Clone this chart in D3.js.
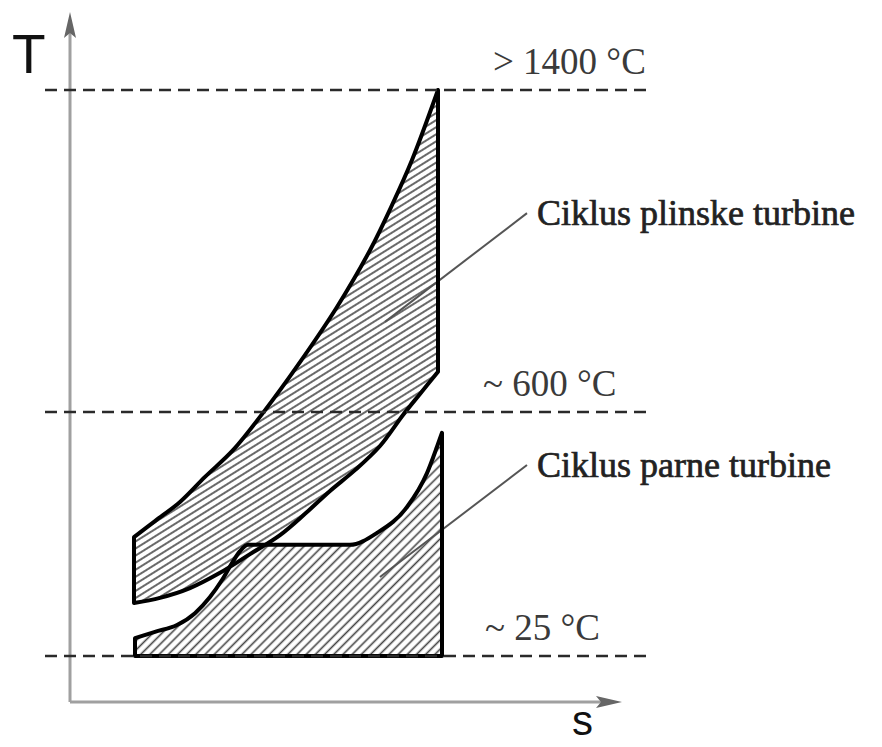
<!DOCTYPE html>
<meta charset="utf-8">
<style>
  body { margin: 0; background: #fff; }
  .outline { fill: none; stroke: #000; stroke-width: 4px; stroke-linejoin: round; }
  .level { stroke: #2a2a2a; stroke-width: 2.6px; stroke-dasharray: 12,7; }
  .axis-line { stroke: #a0a0a0; stroke-width: 3px; }
  .leader { stroke: #555; stroke-width: 2px; }
  .temp { font: 37px "Liberation Serif", "Times New Roman", serif; fill: #3a3a3a; }
  .cycle { font: 36px "Liberation Serif", "Times New Roman", serif; fill: #222; stroke: #222; stroke-width: 0.7px; }
  .axlabel { font: 55px "Liberation Sans", Arial, sans-serif; fill: #111; }
</style>
<svg width="882" height="747"></svg>
<script src="https://cdn.jsdelivr.net/npm/d3@7"></script>
<script>
// temperature levels (°C)
var levels = [1400, 600, 25];
var levelLabels = ["> 1400 °C", "~ 600 °C", "~ 25 °C"];

// gas turbine cycle (s in arbitrary entropy units, T in °C)
var gasUpperS = [1.28, 1.70, 2.20, 2.70, 3.26, 3.86, 4.60, 5.34, 6.00, 6.44, 6.84, 7.36];
var gasUpperT = [305, 343, 388, 447, 510, 598, 724, 861, 1002, 1114, 1226, 1400];
var gasLowerS = [7.36, 7.00, 6.66, 6.20, 5.70, 5.20, 4.70, 4.20, 3.60, 3.00, 2.40, 1.80, 1.28];
var gasLowerT = [700, 645, 593, 520, 463, 414, 360, 310, 265, 221, 185, 162, 150];

// steam turbine cycle, upper boundary; lower boundary sits on the 25 °C level
var steamS = [1.30, 1.70, 2.14, 2.50, 2.80, 3.04, 3.24, 3.40, 3.56, 4.60, 5.60, 6.14, 6.74, 7.14, 7.34, 7.44];
var steamT = [67, 82, 98, 126, 164, 204, 244, 272, 287, 287, 287, 315, 376, 456, 518, 551];

// leader lines for the two cycle labels [s0, T0, s1, T1]
var cycleNames = ["Ciklus plinske turbine", "Ciklus parne turbine"];
var leaders = [[6.3, 824, 9.14, 1094], [6.2, 211, 9.14, 475]];

var svg = d3.select("svg");

var x = d3.scaleLinear().domain([0, 11]).range([70, 620]);
var y = d3.scaleLinear().domain([25, 600, 1400]).range([656, 412, 90]);

var defs = svg.append("defs");
function hatch(id, angle, gap) {
  var p = defs.append("pattern")
      .attr("id", id)
      .attr("patternUnits", "userSpaceOnUse")
      .attr("width", 12).attr("height", gap)
      .attr("patternTransform", "rotate(" + (-angle) + ")");
  p.append("rect").attr("width", 12).attr("height", gap).attr("fill", "#fff");
  p.append("line")
      .attr("x1", 0).attr("x2", 12)
      .attr("y1", gap / 2).attr("y2", gap / 2)
      .attr("stroke", "#444").attr("stroke-width", 1.6);
}
hatch("hatchGas", 32, 6);
hatch("hatchSteam", 45, 6.5);

// axes
svg.append("line").attr("class", "axis-line")
    .attr("x1", x(0)).attr("x2", x(0)).attr("y1", 702).attr("y2", 30);
svg.append("line").attr("class", "axis-line")
    .attr("x1", x(0)).attr("x2", 605).attr("y1", 702).attr("y2", 702);
svg.append("path").attr("fill", "#666")
    .attr("d", "M" + x(0) + ",12 L" + (x(0) - 6) + ",38 L" + x(0) + ",33 L" + (x(0) + 6) + ",38 Z");
svg.append("path").attr("fill", "#666")
    .attr("d", "M622,702 L596,696 L601,702 L596,708 Z");

svg.append("text").attr("class", "axlabel").attr("x", 12).attr("y", 73).text("T");
svg.append("text").attr("class", "axlabel").attr("x", 572).attr("y", 735)
    .style("font-size", "42px").text("s");

var smooth = d3.line()
    .x(function(d) { return x(d[0]); })
    .y(function(d) { return y(d[1]); })
    .curve(d3.curveCatmullRom.alpha(0.5));
var flat = d3.line()
    .x(function(d) { return x(d[0]); })
    .y(function(d) { return y(d[1]); })
    .curve(d3.curveMonotoneX);

var gasUpper = d3.zip(gasUpperS, gasUpperT);
var gasLower = d3.zip(gasLowerS, gasLowerT);
var steamTop = d3.zip(steamS, steamT);

var steamPath = "M" + x(steamS[0]) + "," + y(levels[2]) +
    flat(steamTop).replace(/^M/, "L") +
    "L" + x(steamS[steamS.length - 1]) + "," + y(levels[2]) + "Z";
var gasPath = smooth(gasUpper) + smooth(gasLower).replace(/^M/, "L") + "Z";

svg.append("path").attr("d", steamPath).attr("fill", "url(#hatchSteam)");
svg.append("path").attr("d", gasPath).attr("fill", "url(#hatchGas)");

// leader lines
svg.selectAll(".leader").data(leaders).enter().append("line")
    .attr("class", "leader")
    .attr("x1", function(d) { return x(d[0]); })
    .attr("y1", function(d) { return y(d[1]); })
    .attr("x2", function(d) { return x(d[2]); })
    .attr("y2", function(d) { return y(d[3]); });

svg.append("path").attr("class", "outline").attr("d", steamPath);
svg.append("path").attr("class", "outline").attr("d", gasPath);

// dashed temperature levels
svg.selectAll(".level").data(levels).enter().append("line")
    .attr("class", "level")
    .attr("x1", 45).attr("x2", 650)
    .attr("y1", function(d) { return y(d); })
    .attr("y2", function(d) { return y(d); });

var labelDx = [493, 483, 485];
svg.selectAll(".temp").data(levels).enter().append("text")
    .attr("class", "temp")
    .attr("x", function(d, i) { return labelDx[i]; })
    .attr("y", function(d) { return y(d) - 16; })
    .text(function(d, i) { return levelLabels[i]; });

svg.selectAll(".cycle").data(leaders).enter().append("text")
    .attr("class", "cycle")
    .attr("x", function(d) { return x(d[2]) + 10; })
    .attr("y", function(d) { return y(d[3]) + 12; })
    .text(function(d, i) { return cycleNames[i]; });
</script>
